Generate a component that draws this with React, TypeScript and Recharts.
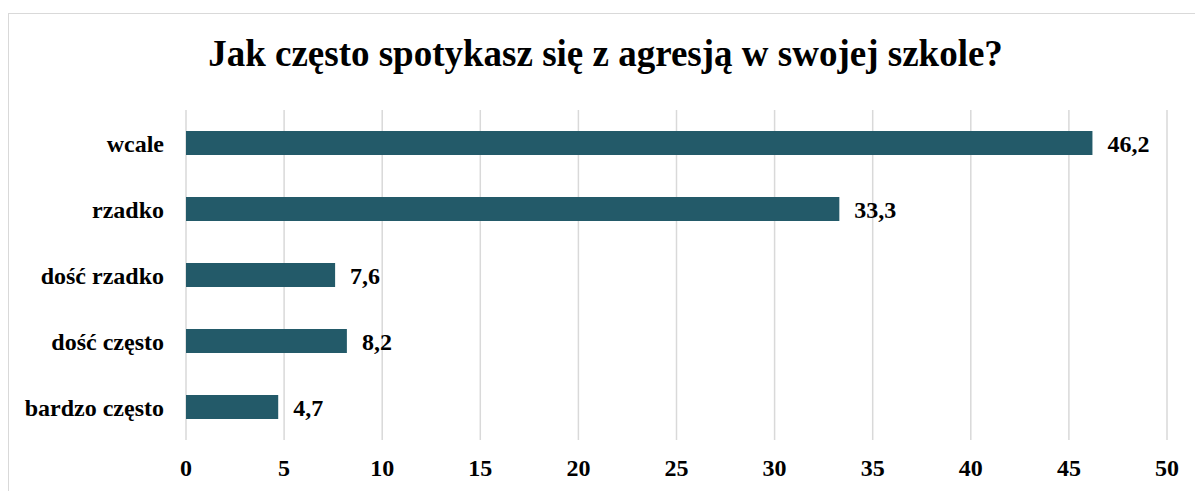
import React from 'react';
import { BarChart, Bar, XAxis, YAxis, CartesianGrid, LabelList } from 'recharts';

const categories = ['wcale', 'rzadko', 'dość rzadko', 'dość często', 'bardzo często'];
const values = [46.2, 33.3, 7.6, 8.2, 4.7];
const xTicks = [0, 5, 10, 15, 20, 25, 30, 35, 40, 45, 50];
const title = 'Jak często spotykasz się z agresją w swojej szkole?';

const data = categories.map((name, i) => ({ name, value: values[i] }));

const font = '"Liberation Serif", "Times New Roman", serif';

export default function App() {
  return (
    <div style={{ position: 'relative', width: 1195, height: 483, overflow: 'hidden', fontFamily: font }}>
      <div
        style={{
          position: 'absolute',
          left: 0,
          top: 5,
          width: 1220,
          height: 520,
          border: '1.5px solid #d9d9d9',
          boxSizing: 'border-box',
        }}
      />
      <div
        style={{
          position: 'absolute',
          left: 0,
          top: 26,
          width: 1195,
          textAlign: 'center',
          fontSize: 37,
          fontWeight: 'bold',
          color: '#000',
          lineHeight: '40px',
          whiteSpace: 'nowrap',
        }}
      >
        {title}
      </div>
      <div style={{ position: 'absolute', left: 0, top: 0 }}>
        <BarChart
          width={1195}
          height={483}
          data={data}
          layout="vertical"
          margin={{ top: 102, right: 36, bottom: 0, left: 0 }}
          barCategoryGap={21}
        >
          <CartesianGrid horizontal={false} vertical={true} stroke="#d9d9d9" strokeWidth={1.5} />
          <XAxis
            type="number"
            domain={[0, 50]}
            ticks={xTicks}
            axisLine={false}
            tickLine={false}
            tickSize={0}
            tickMargin={19}
            height={51}
            interval={0}
            tick={{ fill: '#000', fontSize: 24, fontWeight: 'bold', fontFamily: font }}
          />
          <YAxis
            type="category"
            dataKey="name"
            width={178}
            axisLine={false}
            tickLine={false}
            tickSize={0}
            tickMargin={22}
            interval={0}
            tick={{ fill: '#000', fontSize: 24, fontWeight: 'bold', fontFamily: font }}
          />
          <Bar dataKey="value" fill="#235A69" barSize={24} isAnimationActive={false}>
            <LabelList
              dataKey="value"
              position="right"
              offset={15}
              formatter={(v: number) => String(v).replace('.', ',')}
              style={{ fill: '#000', fontSize: 24, fontWeight: 'bold', fontFamily: font }}
            />
          </Bar>
        </BarChart>
      </div>
    </div>
  );
}
